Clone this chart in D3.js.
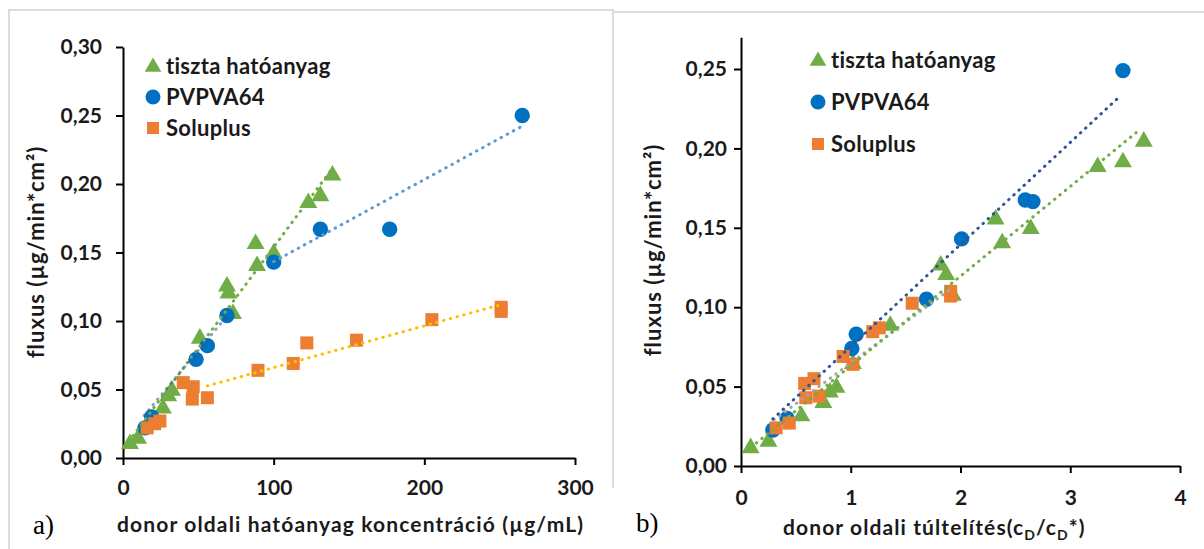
<!DOCTYPE html>
<html><head><meta charset="utf-8">
<script src="https://cdn.jsdelivr.net/npm/d3@7"></script>
<style>
html,body{margin:0;padding:0;background:#fff;}
svg{display:block;font-family:Lato,"Open Sans",sans-serif;}
</style></head>
<body>
<svg id="c" width="1204" height="549"></svg>
<script>
// ---------- data ----------
const seriesNames = ["tiszta hatóanyag", "PVPVA64", "Soluplus"];

// panel a) : x = donor concentration (µg/mL), y = flux
const aTisztaX = [4.6, 10, 26.5, 30, 32.5, 51, 69, 70, 73, 88, 89, 100, 123, 131, 139];
const aTisztaY = [0.011, 0.015, 0.037, 0.046, 0.050, 0.088, 0.126, 0.121, 0.106, 0.157, 0.141, 0.150, 0.187, 0.192, 0.207];
const aPvpX = [14.6, 19, 48.5, 56, 69, 100, 131, 177, 265];
const aPvpY = [0.022, 0.030, 0.072, 0.082, 0.104, 0.143, 0.167, 0.167, 0.250];
const aSolX = [16, 21, 24.5, 40, 46.6, 46, 56, 89.6, 113, 122, 155, 205, 251, 251];
const aSolY = [0.022, 0.025, 0.027, 0.055, 0.052, 0.043, 0.044, 0.064, 0.069, 0.084, 0.086, 0.101, 0.107, 0.110];
// trendline end points [x0, y0, x1, y1]
const aTrendTiszta = [1, 0.008, 138, 0.210];
const aTrendPvpLow = [14, 0.031, 70, 0.105];
const aTrendPvpHigh = [100, 0.1433, 265, 0.2423];
const aTrendSol = [56, 0.0526, 250, 0.1117];
const aXTicks = [0, 100, 200, 300];
const aYTicks = [0, 0.05, 0.10, 0.15, 0.20, 0.25, 0.30];

// panel b) : x = supersaturation (cD/cD*), y = flux
const bTisztaX = [0.088, 0.25, 0.55, 0.75, 0.81, 0.87, 1.02, 1.36, 1.82, 1.87, 1.93, 2.32, 2.38, 2.64, 3.25, 3.48, 3.67];
const bTisztaY = [0.012, 0.016, 0.032, 0.0405, 0.047, 0.050, 0.065, 0.089, 0.127, 0.121, 0.108, 0.156, 0.141, 0.150, 0.189, 0.192, 0.205];
const bPvpX = [0.29, 0.42, 1.01, 1.05, 1.69, 2.01, 2.59, 2.66, 3.48];
const bPvpY = [0.0227, 0.030, 0.074, 0.083, 0.105, 0.143, 0.1675, 0.1665, 0.249];
const bSolX = [0.32, 0.44, 0.58, 0.665, 0.59, 0.71, 0.93, 1.02, 1.2, 1.26, 1.56, 1.91, 1.91];
const bSolY = [0.024, 0.027, 0.052, 0.055, 0.043, 0.044, 0.069, 0.064, 0.0846, 0.087, 0.1025, 0.107, 0.110];
const bTrendPvp = [0.29, 0.0296, 3.44, 0.232];
const bTrendTiszta = [0.14, 0.0145, 3.63, 0.2116];
const bTrendSol = [0.30, 0.029, 1.9, 0.111];
const bXTicks = [0, 1, 2, 3, 4];
const bYTicks = [0, 0.05, 0.10, 0.15, 0.20, 0.25];

// ---------- drawing ----------
const svg = d3.select("#c");
const GREEN = "#70ad47", BLUE = "#0070c0", ORANGE = "#ed7d31";
const fmt = v => d3.format(".2f")(v).replace(".", ",");
const FONT = "Lato, 'Open Sans', sans-serif";
const INK = "#1a1a1a";

// frames
const frame = svg.append("g").attr("stroke", "#dcdcdc").attr("stroke-width", 2).attr("fill", "none");
frame.append("path").attr("d", "M9,549 V10 H613 V488");
frame.append("path").attr("d", "M613,12 H1204");

function zip(xs, ys) { return xs.map((x, i) => [x, ys[i]]); }

function panel(cfg) {
  const g = svg.append("g");
  const x = d3.scaleLinear().domain(cfg.xDom).range(cfg.xRange);
  const y = d3.scaleLinear().domain(cfg.yDom).range(cfg.yRange);

  // axes
  const ya = g.append("g").attr("transform", `translate(${cfg.xRange[0]},0)`)
    .call(d3.axisLeft(y).tickValues(cfg.yTicks).tickFormat(fmt).tickSize(7).tickSizeOuter(0).tickPadding(cfg.yPad));
  const xa = g.append("g").attr("transform", `translate(0,${cfg.yRange[0]})`)
    .call(d3.axisBottom(x).tickValues(cfg.xTicks).tickFormat(d3.format("d")).tickSize(7).tickSizeOuter(0).tickPadding(cfg.xPad));
  [ya, xa].forEach(a => {
    a.selectAll("path.domain").attr("stroke", "#000").attr("stroke-width", 2);
    a.selectAll(".tick line").attr("stroke", "#000").attr("stroke-width", 2);
    a.selectAll(".tick text").attr("font-family", FONT).attr("font-size", 21).attr("font-weight", 700).attr("fill", INK);
  });

  const tri = d3.symbol().type(d3.symbolTriangle).size(140);
  // markers: triangles, circles, squares
  g.append("g").selectAll("path").data(zip(cfg.tX, cfg.tY)).join("path")
    .attr("d", tri).attr("fill", GREEN)
    .attr("transform", d => `translate(${x(d[0])},${y(d[1]) + 1})`);
  g.append("g").selectAll("circle").data(zip(cfg.pX, cfg.pY)).join("circle")
    .attr("cx", d => x(d[0])).attr("cy", d => y(d[1])).attr("r", 7.7).attr("fill", BLUE);
  g.append("g").selectAll("rect").data(zip(cfg.sX, cfg.sY)).join("rect")
    .attr("x", d => x(d[0]) - 6.5).attr("y", d => y(d[1]) - 6.5).attr("width", 13).attr("height", 13)
    .attr("fill", ORANGE);

  // trendlines
  cfg.trends.forEach(t => {
    g.append("line")
      .attr("x1", x(t.v[0])).attr("y1", y(t.v[1])).attr("x2", x(t.v[2])).attr("y2", y(t.v[3]))
      .attr("stroke", t.c).attr("stroke-width", 3).attr("stroke-linecap", "round")
      .attr("stroke-dasharray", "0.5 6.5").attr("opacity", t.o || 1);
  });

  // legend
  const lg = g.append("g").attr("font-family", FONT).attr("font-size", 22).attr("font-weight", 700).attr("fill", INK);
  const lt = d3.symbol().type(d3.symbolTriangle).size(120);
  cfg.legY.forEach((ly, i) => {
    const mx = cfg.legX;
    if (i === 0) lg.append("path").attr("d", lt).attr("fill", GREEN).attr("transform", `translate(${mx},${ly + 1})`);
    if (i === 1) lg.append("circle").attr("cx", mx).attr("cy", ly).attr("r", 7.5).attr("fill", BLUE);
    if (i === 2) lg.append("rect").attr("x", mx - 6).attr("y", ly - 6).attr("width", 12).attr("height", 12).attr("fill", ORANGE);
    lg.append("text").attr("x", mx + 13).attr("y", ly).attr("dy", "0.35em").attr("letter-spacing", 0.3).text(seriesNames[i]);
  });

  // y title
  g.append("text").attr("transform", `translate(${cfg.yTitleX},${cfg.yTitleY}) rotate(-90)`)
    .attr("text-anchor", "middle").attr("font-family", FONT).attr("font-size", 22).attr("font-weight", 700)
    .attr("letter-spacing", 1).attr("fill", INK)
    .text("fluxus (µg/min*cm²)");

  // panel letter
  g.append("text").attr("x", cfg.letterX).attr("y", cfg.letterY).attr("font-family", "'Liberation Serif', 'DejaVu Serif', serif")
    .attr("font-size", 27).attr("fill", "#000").text(cfg.letter);
  return {x, y, g};
}

const A = panel({
  xDom: [0, 300], xRange: [123, 575], yDom: [0, 0.30], yRange: [458, 47],
  xTicks: aXTicks, yTicks: aYTicks, yPad: 14, xPad: 15,
  tX: aTisztaX, tY: aTisztaY, pX: aPvpX, pY: aPvpY, sX: aSolX, sY: aSolY,
  trends: [
    {v: aTrendTiszta, c: GREEN},
    {v: aTrendPvpLow, c: "#2f5597", o: 0.55},
    {v: aTrendPvpHigh, c: "#5b9bd5"},
    {v: aTrendSol, c: "#ffc000"}
  ],
  legX: 153, legY: [66, 97, 128],
  yTitleX: 44, yTitleY: 252, letter: "a)", letterX: 33, letterY: 534
});
A.g.append("text").attr("x", 350).attr("y", 525).attr("dy", "0.35em").attr("text-anchor", "middle")
  .attr("font-family", FONT).attr("font-size", 21).attr("font-weight", 700).attr("fill", INK)
  .attr("textLength", 466).attr("lengthAdjust", "spacing")
  .text("donor oldali hatóanyag koncentráció (µg/mL)");

const B = panel({
  xDom: [0, 4], xRange: [741, 1180], yDom: [0, 0.27], yRange: [466, 466 - 0.27 * 1588],
  xTicks: bXTicks, yTicks: bYTicks, yPad: 7, xPad: 17,
  tX: bTisztaX, tY: bTisztaY, pX: bPvpX, pY: bPvpY, sX: bSolX, sY: bSolY,
  trends: [
    {v: bTrendSol, c: "#a5a5a5"},
    {v: bTrendPvp, c: "#2f5597"},
    {v: bTrendTiszta, c: GREEN}
  ],
  legX: 818, legY: [60, 102, 144],
  yTitleX: 661, yTitleY: 250, letter: "b)", letterX: 636, letterY: 532
});
const bt = B.g.append("text").attr("x", 783).attr("y", 528).attr("dy", "0.35em")
  .attr("font-family", FONT).attr("font-size", 21).attr("font-weight", 700).attr("fill", INK)
  .attr("letter-spacing", 1.1);
bt.append("tspan").text("donor oldali túltelítés(c");
bt.append("tspan").attr("font-size", 14).attr("dy", 5).text("D");
bt.append("tspan").attr("dy", -5).text("/c");
bt.append("tspan").attr("font-size", 14).attr("dy", 5).text("D");
bt.append("tspan").attr("dy", -5).text("*)");
</script>
</body></html>
